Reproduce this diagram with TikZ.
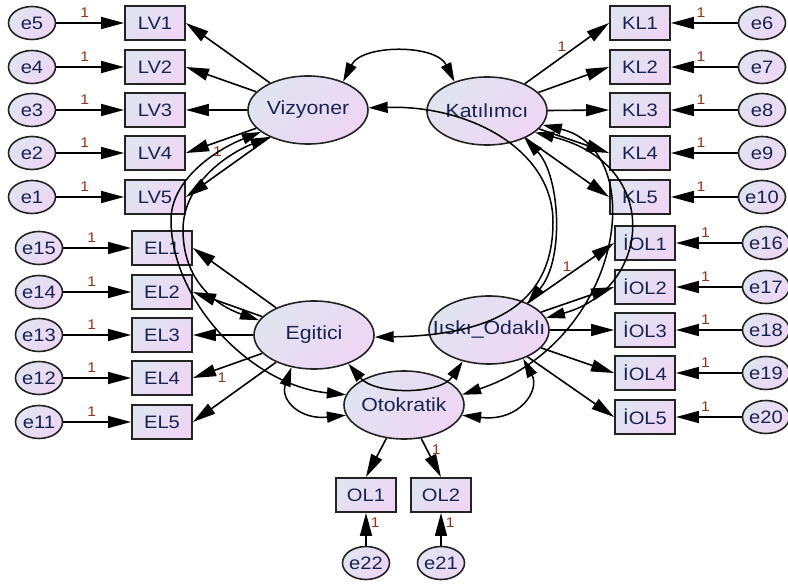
\documentclass[tikz,border=0pt]{standalone}
\usepackage{fontspec}
\setmainfont{Liberation Sans}[FakeStretch=1.12]
\usetikzlibrary{arrows.meta,shapes.geometric}
\definecolor{fillA}{RGB}{224,228,240}
\definecolor{fillB}{RGB}{238,214,244}
\definecolor{txt}{RGB}{25,35,80}
\definecolor{fixd}{RGB}{140,55,25}
\definecolor{edge}{RGB}{35,35,35}

\begin{document}
\begin{tikzpicture}[x=1pt,y=-1pt,
        amosfill/.style={left color=fillA,right color=fillB,shading angle=45,text=txt},
        latent/.style={ellipse,draw=edge,line width=1.6pt,amosfill,minimum width=120pt,minimum height=68pt,
            inner xsep=-20pt,inner ysep=0pt,font=\fontsize{19}{21}\selectfont},
        ind/.style={rectangle,draw=edge,line width=1.9pt,amosfill,minimum width=60pt,minimum height=34pt,
            inner sep=0pt,font=\fontsize{18}{20}\selectfont},
        err/.style={ellipse,draw=edge,line width=1.6pt,amosfill,minimum width=47pt,minimum height=33pt,
            inner xsep=-6pt,inner ysep=0pt,font=\fontsize{18}{20}\selectfont},
        arr/.style={line width=1.6pt,-{Triangle[length=23pt,width=12pt]}},
        covar/.style={line width=1.5pt,{Triangle[length=19pt,width=11pt]}-{Triangle[length=19pt,width=11pt]}},
        one/.style={text=fixd,inner sep=1pt,font=\fontsize{14}{14}\selectfont}]
        \useasboundingbox (0,0) rectangle (788,588);
        % latent variables
        \node[latent] (Viz) at (308,110) {Vizyoner};
        \node[latent] (Kat) at (487,111) {Katılımcı};
        \node[latent] (Egi) at (314,335) {Egitici};
        \node[latent] (Ili) at (489,330) {Iıskı\_Odaklı};
        \node[latent] (Oto) at (404,405) {Otokratik};
        % indicators with their errors
        \foreach \n/\e/\y in {1/5/23,2/4/67,3/3/110,4/2/153,5/1/197}{
            \node[ind] (LV\n) at (155,\y) {LV\n};
            \node[err] (e\e) at (32,\y) {e\e};
            \draw[arr] (e\e) -- node[one,pos=0.42,above=4pt] {1} (LV\n);
            \draw[arr] (Viz) -- (LV\n.east);
        }
        \foreach \n/\e/\y in {1/6/23,2/7/67,3/8/110,4/9/153,5/10/197}{
            \node[ind] (KL\n) at (640,\y) {KL\n};
            \node[err] (e\e) at (762,\y) {e\e};
            \draw[arr] (e\e) -- node[one,pos=0.55,above=4pt] {1} (KL\n);
            \draw[arr] (Kat) -- (KL\n.west);
        }
        \foreach \n/\e/\y in {1/15/248,2/14/292,3/13/335,4/12/378,5/11/422}{
            \node[ind] (EL\n) at (162,\y) {EL\n};
            \node[err] (e\e) at (39,\y) {e\e};
            \draw[arr] (e\e) -- node[one,pos=0.42,above=4pt] {1} (EL\n);
            \draw[arr] (Egi) -- (EL\n.east);
        }
        \foreach \n/\e/\y in {1/16/243,2/17/287,3/18/330,4/19/373,5/20/417}{
            \node[ind] (IOL\n) at (645,\y) {İOL\n};
            \node[err] (e\e) at (766,\y) {e\e};
            \draw[arr] (e\e) -- node[one,pos=0.55,above=4pt] {1} (IOL\n);
            \draw[arr] (Ili) -- (IOL\n.west);
        }
        \node[ind] (OL1) at (366,495) {OL1};
        \node[ind] (OL2) at (441,495) {OL2};
        \node[err] (e22) at (366,563) {e22};
        \node[err] (e21) at (441,563) {e21};
        \draw[arr] (Oto) -- (OL1.north);
        \draw[arr] (Oto) -- node[one,pos=0.3,right=3pt] {1} (OL2.north);
        \draw[arr] (e22) -- node[one,pos=0.7,right=3pt] {1} (OL1);
        \draw[arr] (e21) -- node[one,pos=0.7,right=3pt] {1} (OL2);
        % fixed loadings
        \path (Viz) -- (LV4.east) node[one,pos=0.55,below=4pt] {1};
        \path (Egi) -- (EL4.east) node[one,pos=0.58,below=4pt] {1};
        \path (Kat) -- (KL1.west) node[one,pos=0.44,above=4pt] {1};
        \path (Ili) -- (IOL1.west) node[one,pos=0.455,above=3pt] {1};
        % covariances
        \draw[covar] (Viz.39) .. controls (362,44) and (436,44) .. (Kat.138);
        \draw[covar] (Viz.2) .. controls (470,105) and (553,150) .. (553,222)
            .. controls (553,300) and (500,335) .. (Egi.-2);
        \draw[covar] (Kat.-36) .. controls (560,175) and (565,260) .. (Ili.35);
        \draw[covar] (Kat.-24) .. controls (665,165) and (650,290) .. (Ili.12);
        \draw[covar] (Kat.-14) .. controls (650,150) and (625,340) .. (Oto.10);
        \draw[covar] (Viz.205) .. controls (215,150) and (171,180) .. (171,220)
            .. controls (171,300) and (250,385) .. (Oto.170);
        \draw[covar] (Viz.215) .. controls (225,155) and (183,185) .. (183,230)
            .. controls (183,280) and (215,305) .. (Egi.165);
        \draw[covar] (Egi.-40) .. controls (375,395) and (440,395) .. (Ili.-130);
        \draw[covar] (Egi.-125) .. controls (280,400) and (300,420) .. (Oto.190);
        \draw[covar] (Ili.-40) .. controls (540,390) and (520,422) .. (Oto.-10);
    \end{tikzpicture}
\end{document}
